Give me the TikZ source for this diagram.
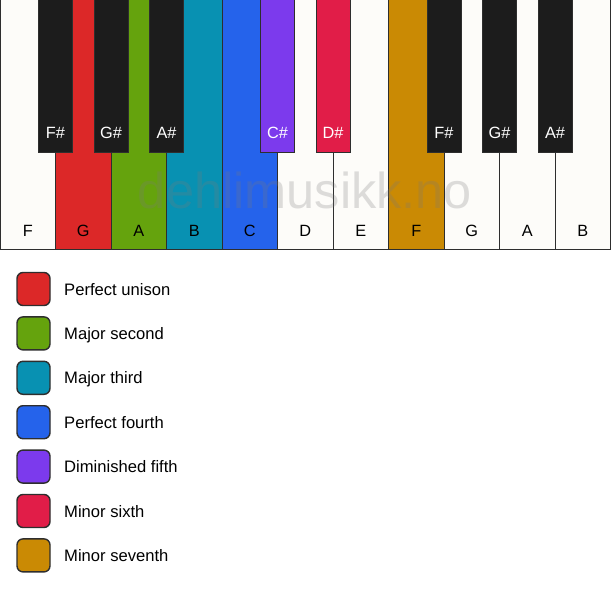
\documentclass[tikz,border=0pt]{standalone}
\usepackage{fontspec}
\setmainfont{Liberation Sans}
\definecolor{ivory}{HTML}{FDFCF9}
\definecolor{keyblack}{HTML}{1C1C1C}
\definecolor{edge}{HTML}{2E2E2E}
\definecolor{cUnison}{HTML}{DC2828}
\definecolor{cSecond}{HTML}{65A30D}
\definecolor{cThird}{HTML}{0891B2}
\definecolor{cFourth}{HTML}{2563EB}
\definecolor{cFifth}{HTML}{7C3AED}
\definecolor{cSixth}{HTML}{E11D48}
\definecolor{cSeventh}{HTML}{CA8A04}
\definecolor{wmark}{HTML}{7A7A7A}
\begin{document}
\begin{tikzpicture}[x=1pt,y=-1pt,
  wkey/.style={draw=edge,line width=1pt,inner sep=0pt,outer sep=0pt,minimum width=55.5pt,minimum height=249.5pt},
  bkey/.style={draw=edge,line width=1pt,inner sep=0pt,outer sep=0pt,minimum width=34pt,minimum height=152.5pt},
  wlab/.style={anchor=base,inner sep=0pt,text=black,font=\fontsize{16.3}{19}\selectfont},
  blab/.style={anchor=base,inner sep=0pt,text=white,font=\fontsize{16.3}{19}\selectfont},
  legsq/.style={draw=edge,line width=1.4pt,rounded corners=6pt,inner sep=0pt,minimum width=33pt,minimum height=33pt},
  legtxt/.style={anchor=base west,inner sep=0pt,text=black,font=\fontsize{16.6}{20}\selectfont},
  wm/.style={anchor=base,inner sep=0pt,text=wmark,text opacity=0.25,font=\fontsize{50.5}{60}\selectfont}]
\useasboundingbox (0,0) rectangle (611,594);
\fill[white] (0,0) rectangle (611,594);
% white keys
\foreach \n/\c [count=\i from 0] in {F/ivory,G/cUnison,A/cSecond,B/cThird,C/cFourth,D/ivory,E/ivory,F/cSeventh,G/ivory,A/ivory,B/ivory}{
  \node[wkey,fill=\c] (w\i) at ({55.5*\i+27.75},124.75) {};
  \node[wlab] (wl\i) at ({55.5*\i+27.75},236) {\n};
}
% watermark
\node[wm] (mark) at (305,208) {dehlimusikk.no};
% black keys
\foreach \i/\n/\c in {1/F\#/keyblack,2/G\#/keyblack,3/A\#/keyblack,5/C\#/cFifth,6/D\#/cSixth,8/F\#/keyblack,9/G\#/keyblack,10/A\#/keyblack}{
  \node[bkey,fill=\c] (b\i) at ({55.5*\i},76.25) {};
  \node[blab] (bl\i) at ({55.5*\i},139) {\n};
}
% legend
\foreach \t/\c [count=\k from 0] in {Perfect unison/cUnison,Major second/cSecond,Major third/cThird,Perfect fourth/cFourth,Diminished fifth/cFifth,Minor sixth/cSixth,Minor seventh/cSeventh}{
  \node[legsq,fill=\c] (l\k) at (33.5,{289+44.4*\k}) {};
  \node[legtxt] (lt\k) at (64,{295+44.4*\k}) {\t};
}
\end{tikzpicture}
\end{document}
